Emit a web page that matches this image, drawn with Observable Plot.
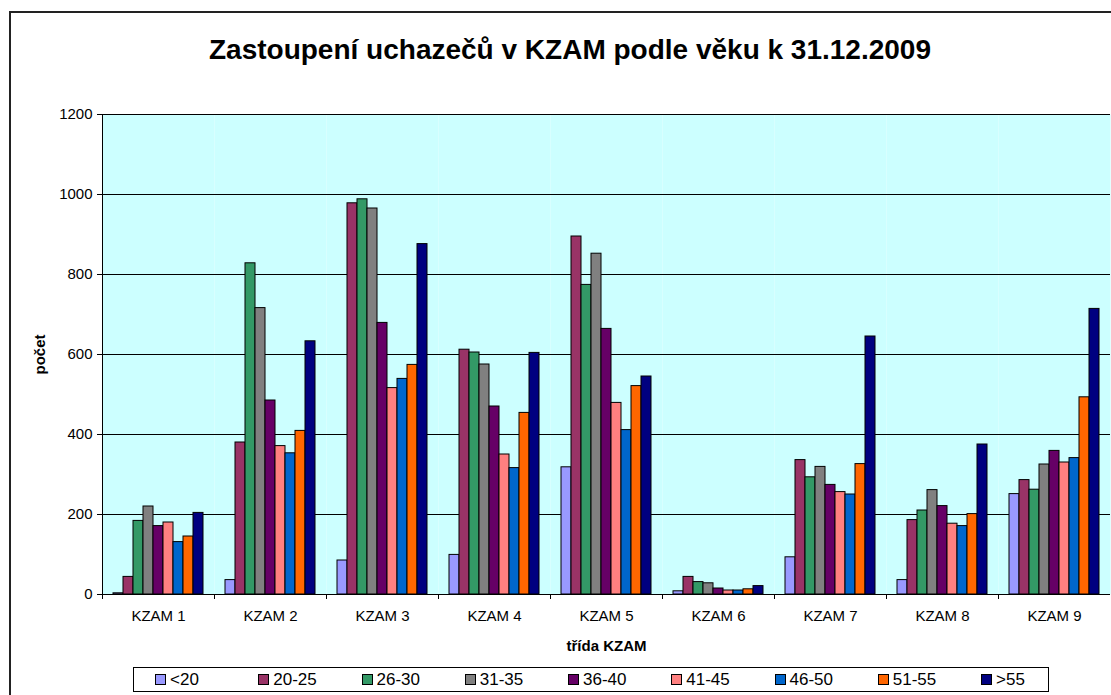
<!DOCTYPE html>
<html>
<head>
<meta charset="utf-8">
<script src="https://cdn.jsdelivr.net/npm/d3@7"></script>
<script src="https://cdn.jsdelivr.net/npm/@observablehq/plot@0.6"></script>
<style>
  html, body { margin: 0; padding: 0; background: #fff; overflow: hidden; }
  body { font-family: "Liberation Sans", Arial, sans-serif; }
  #wrap { position: relative; width: 1111px; height: 695px; overflow: hidden; }
  #border { position: absolute; left: 9px; top: 11px; width: 1200px; height: 800px;
            border-left: 2px solid #222; border-top: 2px solid #222; box-sizing: border-box; }
  #title { position: absolute; left: 10px; width: 1120px; top: 33px; text-align: center;
           font-size: 28px; font-weight: bold; line-height: 34px; color: #000; }
  #chart { position: absolute; left: 0; top: 100px; }
  #legend { position: absolute; left: 133px; top: 667px; width: 916px; height: 25px;
            border: 1px solid #000; background: #fff; box-sizing: border-box; }
  .item { position: absolute; top: 0; height: 23px; display: flex; align-items: center;
          font-size: 17px; color: #000; white-space: nowrap; }
  .sw { width: 9px; height: 9px; border: 1px solid #000; margin-right: 4px; }
  g[aria-label="y-axis label"] text, g[aria-label="fx-axis label"] text { font-weight: bold; }
</style>
</head>
<body>
<div id="wrap">
  <div id="border"></div>
  <div id="chart"></div>
  <div id="title">Zastoupení uchazečů v KZAM podle věku k 31.12.2009</div>
  <div id="legend"></div>
</div>
<script>
const categories = ["KZAM 1","KZAM 2","KZAM 3","KZAM 4","KZAM 5","KZAM 6","KZAM 7","KZAM 8","KZAM 9"];
const series = ["<20","20-25","26-30","31-35","36-40","41-45","46-50","51-55",">55"];
const colors = ["#9999FF","#993366","#339966","#808080","#660066","#FF8080","#0066CC","#FF6600","#000080"];
const yTicks = [0,200,400,600,800,1000,1200];

// values per category, in series order
const kzam1 = [3, 44, 184, 220, 171, 180, 131, 145, 204];
const kzam2 = [36, 380, 828, 716, 485, 371, 353, 409, 633];
const kzam3 = [85, 978, 988, 965, 679, 516, 539, 574, 876];
const kzam4 = [99, 612, 605, 575, 470, 350, 316, 454, 604];
const kzam5 = [318, 895, 774, 852, 664, 479, 411, 521, 545];
const kzam6 = [8, 44, 31, 28, 15, 10, 10, 13, 21];
const kzam7 = [93, 336, 293, 319, 274, 256, 250, 326, 645];
const kzam8 = [36, 186, 210, 261, 221, 177, 171, 201, 375];
const kzam9 = [251, 286, 262, 325, 359, 330, 341, 493, 714];

const rows = [kzam1,kzam2,kzam3,kzam4,kzam5,kzam6,kzam7,kzam8,kzam9];
const data = categories.flatMap((c, i) => series.map((s, j) => ({cat: c, series: s, value: rows[i][j]})));

const chart = Plot.plot({
  width: 1111,
  height: 560,
  marginTop: 14,
  marginBottom: 66,
  marginLeft: 101,
  marginRight: 0,
  style: {fontFamily: '"Liberation Sans", Arial, sans-serif', fontSize: "15px", background: "transparent", overflow: "visible", color: "#000"},
  fx: {domain: categories, padding: 0, axis: null, label: null},
  x: {domain: series, padding: 0, paddingOuter: 0.62, axis: null},
  y: {domain: [0, 1200], axis: null},
  color: {domain: series, range: colors},
  marks: [
    Plot.frame({fill: "#CCFFFF", stroke: null}),
    Plot.gridY(yTicks, {stroke: "#000", strokeOpacity: 1, strokeWidth: 1}),
    Plot.barY(data, {fx: "cat", x: "series", y: "value", fill: "series", stroke: "#000", strokeWidth: 1}),
    Plot.frame({anchor: "left", facetAnchor: "left", stroke: "#000", insetBottom: -4}),
    Plot.frame({anchor: "left", stroke: "#000", insetTop: 480, insetBottom: -4}),
    Plot.axisY(yTicks, {tickSize: 5, tickPadding: 5, tickFormat: d => String(d), label: "počet", labelAnchor: "center", labelOffset: 68, labelArrow: false}),
    Plot.axisFx({anchor: "bottom", tickSize: 0, tickPadding: 16, label: "třída KZAM", labelAnchor: "center", labelOffset: 56, labelArrow: false})
  ]
});
document.getElementById("chart").appendChild(chart);

const legend = document.getElementById("legend");
series.forEach((s, i) => {
  const it = document.createElement("div");
  it.className = "item";
  it.style.left = (21 + i * 103.25) + "px";
  const sw = document.createElement("div");
  sw.className = "sw";
  sw.style.background = colors[i];
  const t = document.createElement("span");
  t.textContent = s;
  it.appendChild(sw);
  it.appendChild(t);
  legend.appendChild(it);
});
</script>
</body>
</html>
